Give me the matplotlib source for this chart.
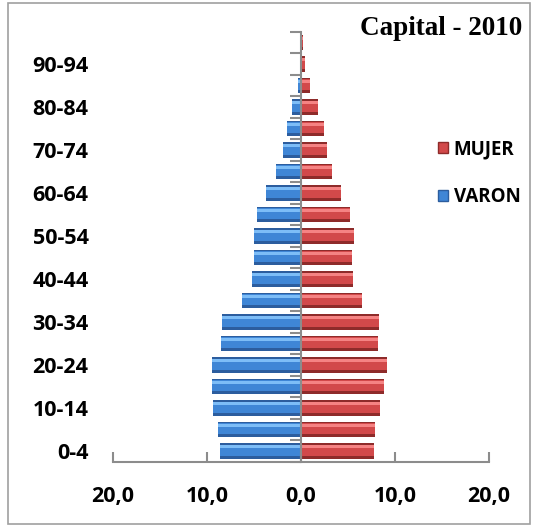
import matplotlib.pyplot as plt
from matplotlib.patches import Rectangle, Patch
from matplotlib.ticker import FuncFormatter, MultipleLocator
import numpy as np

# age groups, bottom to top
ages = ['0-4', '5-9', '10-14', '15-19', '20-24', '25-29', '30-34', '35-39',
        '40-44', '45-49', '50-54', '55-59', '60-64', '65-69', '70-74',
        '75-79', '80-84', '85-89', '90-94', '95-99']
varon = [8.6, 8.8, 9.3, 9.5, 9.5, 8.5, 8.4, 6.3, 5.2, 5.0, 5.0, 4.7,
         3.7, 2.7, 1.9, 1.5, 1.0, 0.3, 0.1, 0.05]
mujer = [7.8, 7.9, 8.4, 8.8, 9.1, 8.2, 8.3, 6.5, 5.5, 5.4, 5.6, 5.2,
         4.3, 3.3, 2.8, 2.5, 1.8, 1.0, 0.4, 0.2]
title = 'Capital - 2010'

blue = ['#2c5d9e', '#3f86d6', '#7dbdf7']
red = ['#8e2b2a', '#d2494a', '#f58383']
axis_col = '#8c8c8c'

plt.rcParams['font.family'] = ['Open Sans', 'DejaVu Sans']
plt.rcParams['font.weight'] = 'bold'

fig = plt.figure(figsize=(5.35, 5.31), dpi=100)
ax = fig.add_axes([0.211, 0.130, 0.703, 0.810])

y = np.arange(len(ages))
neg_varon = [-v for v in varon]

# layered bars to fake the bevel look
ax.barh(y, neg_varon, height=0.72, color=blue[0])
ax.barh(y + 0.04, neg_varon, height=0.52, color=blue[1])
ax.barh(y + 0.2, neg_varon, height=0.14, color=blue[2])
ax.barh(y, mujer, height=0.72, color=red[0])
ax.barh(y + 0.04, mujer, height=0.52, color=red[1])
ax.barh(y + 0.2, mujer, height=0.14, color=red[2])

ax.set_xlim(-20, 20)
ax.set_ylim(-0.5, len(ages) - 0.5)

# x axis
ax.xaxis.set_major_locator(MultipleLocator(10))
ax.xaxis.set_major_formatter(FuncFormatter(lambda v, p: f'{abs(v):.1f}'.replace('.', ',')))
ax.tick_params(axis='x', direction='in', length=7, width=1.5, color=axis_col,
               pad=17, labelsize=15.5)

# y labels on the left, every other group
ax.set_yticks(y[::2])
ax.set_yticklabels(ages[::2])
ax.set_yticks(np.arange(len(ages) + 1) - 0.5, minor=True)
ax.tick_params(axis='y', which='major', left=False, right=False, pad=14,
               labelsize=15.5)
ax.tick_params(axis='y', which='minor', left=False, right=True, direction='in',
               length=8, width=1.5, color=axis_col)
for lab in ax.get_xticklabels() + ax.get_yticklabels():
    lab.set_fontweight('bold')

# center category axis is the right spine moved to 0
ax.spines['left'].set_visible(False)
ax.spines['top'].set_visible(False)
ax.spines['right'].set_position(('data', 0))
ax.spines['right'].set_color(axis_col)
ax.spines['right'].set_linewidth(1.5)
ax.spines['bottom'].set_color(axis_col)
ax.spines['bottom'].set_linewidth(1.5)

fig.text(0.976, 0.947, title, ha='right', va='center', fontsize=19.5,
         fontweight='bold', family='Liberation Serif')

handles = [Patch(facecolor=red[1], edgecolor=red[0], label='MUJER'),
           Patch(facecolor=blue[1], edgecolor=blue[0], label='VARON')]
leg = fig.legend(handles=handles, loc='upper left', bbox_to_anchor=(0.787, 0.770),
                 frameon=False, handlelength=0.55, handleheight=0.55,
                 handletextpad=0.3, labelspacing=1.5,
                 prop={'weight': 'bold', 'size': 13.5})

# outer chart border
fig.patches.append(Rectangle((8 / 535, 7 / 531), 522 / 535, 521 / 531,
                             transform=fig.transFigure, fill=False,
                             edgecolor='#a0a0a0', linewidth=1.2))

fig.savefig('out.png', dpi=100)
